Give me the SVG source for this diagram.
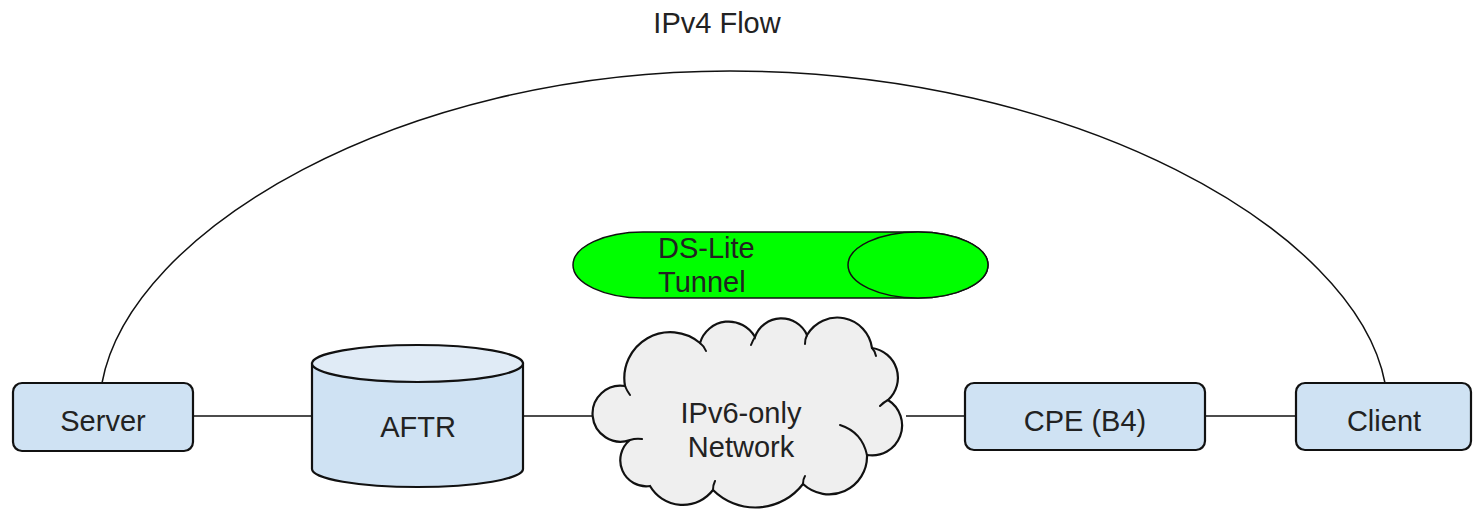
<svg xmlns="http://www.w3.org/2000/svg" width="1473" height="518" viewBox="0 0 1473 518">
<style>
text{font-family:"Liberation Sans",Arial,sans-serif;font-size:29px;fill:#222}
.box{fill:#cfe2f3;stroke:#111;stroke-width:2.2}
.ln{fill:none;stroke:#111;stroke-width:1.5}
.stub{fill:none;stroke:#111;stroke-width:2;stroke-linecap:round}
</style>
<rect width="1473" height="518" fill="#fff"/>
<text x="717" y="33" text-anchor="middle">IPv4 Flow</text>
<g id="connectors">
<path class="ln" d="M102,383 C130,230 400,71 730,71 C1074,71 1356,230 1385,383"/>
<line class="ln" x1="193" y1="416" x2="312" y2="416"/>
<line class="ln" x1="523" y1="416" x2="597" y2="416"/>
<line class="ln" x1="906" y1="416" x2="965" y2="416"/>
<line class="ln" x1="1205" y1="416" x2="1296" y2="416"/>
</g>
<g id="tunnel">
<path d="M643,232 L918,232 A70,33 0 0 1 918,298 L643,298 A70,33 0 0 1 643,232 Z" fill="#00ff00" stroke="#111" stroke-width="1.5"/>
<ellipse cx="918" cy="265" rx="70" ry="33" fill="#00ff00" stroke="#111" stroke-width="1.5"/>
<text x="658" y="258">DS-Lite</text>
<text x="658" y="292">Tunnel</text>
</g>
<g id="server">
<rect class="box" x="13" y="383" width="180" height="68" rx="9"/>
<text x="103" y="431" text-anchor="middle">Server</text>
</g>
<g id="aftr">
<path d="M312,363.5 L312,469 A105.5,18 0 0 0 523,469 L523,363.5 Z" fill="#cfe2f3" stroke="#111" stroke-width="2.2"/>
<ellipse cx="417.5" cy="363.5" rx="105.5" ry="18.5" fill="#e0ebf6" stroke="#111" stroke-width="2.2"/>
<text x="418" y="437" text-anchor="middle">AFTR</text>
</g>
<g id="cloud">
<path d="M630,440 A28,28 0 1 1 625,386 A46,46 0 0 1 700,343 A30,30 0 0 1 755,337 A28,28 0 0 1 807,335 A35,35 0 0 1 872,348 A30,30 0 0 1 888,400 A30,30 0 0 1 867,455 A38,38 0 0 1 803,484 A60,60 0 0 1 713,490 A38,38 0 0 1 650,486 A26,26 0 0 1 630,440 Z" fill="#efefef" stroke="#111" stroke-width="2.2"/>
<path class="stub" d="M630,440 q6,-2 12,-1 M625,386 q2,5 5,9 M700,343 q4,3 6,8 M755,337 q-2,3 -4,8 M807,335 q-2,4 -2,9 M872,348 q3,3 4,8 M888,400 q-4,2 -8,6 M713,490 q0,-5 2,-9 M803,484 q0,-5 2,-8 M840,425 Q862,432 867,455"/>
<text x="741" y="423" text-anchor="middle">IPv6-only</text>
<text x="741" y="457" text-anchor="middle">Network</text>
</g>
<g id="cpe">
<rect class="box" x="965" y="383" width="240" height="67" rx="9"/>
<text x="1085" y="431" text-anchor="middle">CPE (B4)</text>
</g>
<g id="client">
<rect class="box" x="1296" y="383" width="175" height="67" rx="9"/>
<text x="1384" y="431" text-anchor="middle">Client</text>
</g>
</svg>
